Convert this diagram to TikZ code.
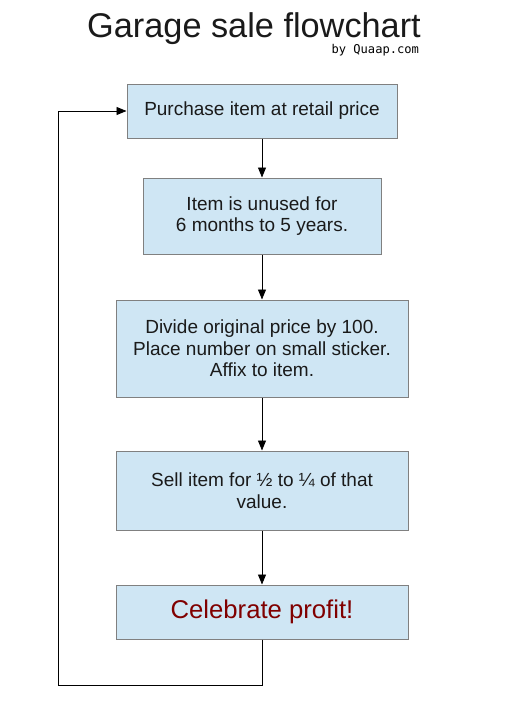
\documentclass[tikz,border=0pt]{standalone}
\usepackage{fontspec}
\setmainfont{Liberation Sans}
\newfontfamily\monof{DejaVu Sans Mono}
\usetikzlibrary{arrows.meta}
\definecolor{boxfill}{HTML}{CFE6F4}
\definecolor{boxline}{HTML}{808080}
\definecolor{txt}{HTML}{1A1A1A}
\definecolor{profit}{HTML}{800000}
\begin{document}
\begin{tikzpicture}[x=1pt,y=-1pt,
  stepbox/.style={draw=boxline,fill=boxfill,line width=1pt,inner sep=0pt,align=center,
    text=txt,font=\fontsize{19}{21.5}\selectfont},
  conn/.style={line width=0.9pt,-{Triangle[length=10pt,width=8pt]}},
  plain/.style={line width=0.9pt}]
\useasboundingbox (0,0) rectangle (515,720);
\node[font=\fontsize{34.3}{36}\selectfont,text=txt,anchor=base] (title) at (254,37) {Garage sale flowchart};
\node[font=\monof\fontsize{12.1}{13}\selectfont,text=black,anchor=base east] (by) at (422.5,53) {by Quaap.com};
\node[stepbox,minimum width=270pt,minimum height=54pt] (s1) at (262,111) {Purchase item at retail price};
\node[stepbox,minimum width=238pt,minimum height=76pt] (s2) at (262,216) {Item is unused for\\6 months to 5 years.};
\node[stepbox,minimum width=292pt,minimum height=97pt] (s3) at (262,348.5) {Divide original price by 100.\\Place number on small sticker.\\Affix to item.};
\node[stepbox,minimum width=292pt,minimum height=79pt] (s4) at (262,490.5) {Sell item for ½ to ¼ of that\\value.};
\node[stepbox,minimum width=292pt,minimum height=54pt,text=profit,font=\fontsize{25.7}{28}\selectfont] (s5) at (262,612) {Celebrate profit!};
\coordinate (c1) at (262,685);
\coordinate (c2) at (58,685);
\coordinate (c3) at (58,111);
\draw[conn] (s1) -- (s2);
\draw[conn] (s2) -- (s3);
\draw[conn] (s3) -- (s4);
\draw[conn] (s4) -- (s5);
\draw[conn] (s5.south) -- (c1) -- (c2) -- (c3) -- (s1.west);
\end{tikzpicture}
\end{document}
